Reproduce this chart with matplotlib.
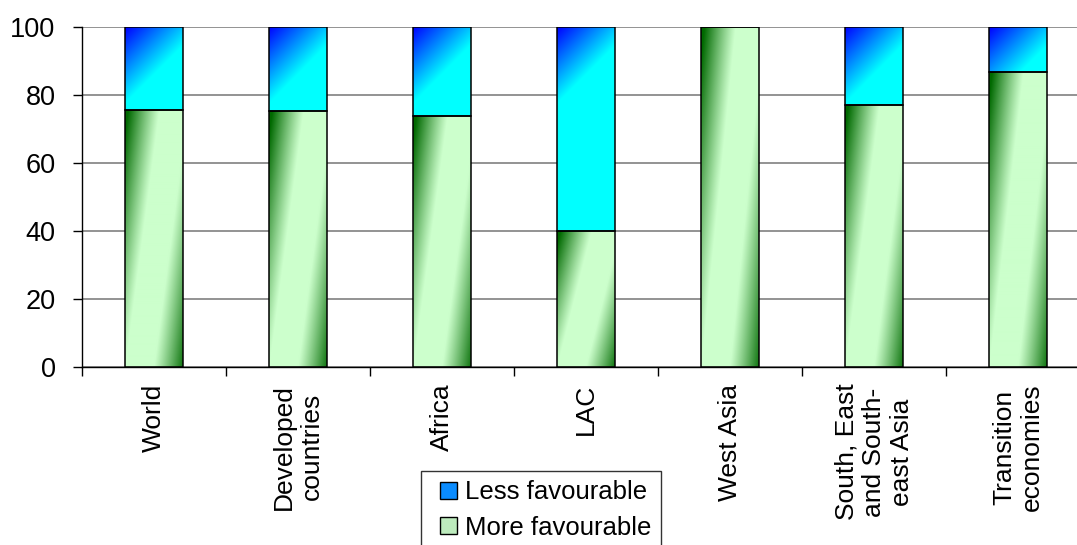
import numpy as np
import matplotlib
matplotlib.use("Agg")
import matplotlib.pyplot as plt
from matplotlib.patches import Rectangle
from matplotlib.legend_handler import HandlerPatch

plt.rcParams['font.family'] = ['Liberation Sans', 'DejaVu Sans']

# data
categories = ["World", "Developed\ncountries", "Africa", "LAC", "West Asia",
              "South, East\nand South-\neast Asia", "Transition\neconomies"]
more_fav = [75.7, 75.2, 73.8, 40.0, 100.0, 77.0, 86.8]
less_fav = [100 - v for v in more_fav]
yticks = [0, 20, 40, 60, 80, 100]

W, H, DPI = 1077, 545, 100
fig = plt.figure(figsize=(W / DPI, H / DPI), dpi=DPI)
# plot area: left 82px, bottom at y=367, top at y=27, one category = 144px
ax = fig.add_axes([82 / W, (H - 367) / H, 1008 / W, 340 / H])

x = np.arange(len(categories))
bw = 0.4
b_green = ax.bar(x, more_fav, bw, facecolor="none", edgecolor="black", linewidth=1.1, zorder=3)
b_blue = ax.bar(x, less_fav, bw, bottom=more_fav, facecolor="none", edgecolor="black",
                linewidth=1.1, zorder=3)

px_per_x = 1008 / len(categories)
px_per_y = 340 / 100.0

light = np.array([204, 255, 204]) / 255
dark = np.array([0, 105, 0]) / 255

def green_img(wpx, hpx):
    xf = np.linspace(0, 1, wpx)[None, :]
    yf = np.linspace(1, 0, hpx)[:, None]  # row 0 = top
    d = xf - (0.25 + 0.6 * yf)
    f = np.clip((np.abs(d) - 0.25) / 0.55, 0, 1) ** 1.1
    return light[None, None, :] * (1 - f[..., None]) + dark[None, None, :] * f[..., None]

def blue_img(wpx, hpx):
    xp = np.arange(wpx)[None, :]
    yp = np.arange(hpx)[:, None]
    t = np.clip((xp + yp) / (1.3 * wpx), 0, 1)
    img = np.zeros((hpx, wpx, 3))
    img[..., 1] = t
    img[..., 2] = 1.0
    return img

for bars, maker in [(b_green, green_img), (b_blue, blue_img)]:
    for p in bars:
        h = p.get_height()
        if h <= 0:
            continue
        x0, y0, w = p.get_x(), p.get_y(), p.get_width()
        wpx = max(int(round(w * px_per_x)), 2)
        hpx = max(int(round(h * px_per_y)), 2)
        im = ax.imshow(maker(wpx, hpx), extent=(x0, x0 + w, y0, y0 + h),
                       aspect="auto", zorder=2, interpolation="bilinear")
        im.set_clip_path(p)

ax.set_xlim(-0.5, len(categories) - 0.5)
ax.set_ylim(0, 100)

ax.set_yticks(yticks)
ax.yaxis.grid(True, color="#808080", linewidth=1.2)
ax.set_axisbelow(True)
ax.tick_params(axis="y", direction="out", length=6.5, width=1, pad=12.5, labelsize=19.5)

ax.set_xticks(x)
ax.set_xticklabels(categories, rotation=90, multialignment="center", fontsize=19)
ax.set_xticks(np.arange(len(categories) + 1) - 0.5, minor=True)
ax.tick_params(axis="x", which="major", length=0, pad=12)
ax.tick_params(axis="x", which="minor", direction="out", length=6.5, width=1)

for s in ["top", "right"]:
    ax.spines[s].set_visible(False)
ax.spines["left"].set_linewidth(1)
ax.spines["bottom"].set_linewidth(1)

def square(legend, orig_handle, xdescent, ydescent, width, height, fontsize):
    side = 12.5
    return Rectangle((-xdescent + width - side, -ydescent + (height - side) / 2), side, side)

h_less = Rectangle((0, 0), 1, 1, facecolor="#0A8CFF", edgecolor="black", linewidth=1)
h_more = Rectangle((0, 0), 1, 1, facecolor="#BDEBBD", edgecolor="black", linewidth=1)
leg = fig.legend([h_less, h_more], ["Less favourable", "More favourable"],
                 loc="upper left", bbox_to_anchor=(421 / W, 1 - 471 / H),
                 fontsize=18.5, frameon=True, fancybox=False, borderpad=0.36,
                 labelspacing=0.45, handlelength=1.05, handleheight=0.68,
                 handletextpad=0.3, borderaxespad=0,
                 handler_map={Rectangle: HandlerPatch(patch_func=square)})
leg.get_frame().set_edgecolor("black")
leg.get_frame().set_linewidth(1)

fig.savefig("out.png", dpi=DPI)
